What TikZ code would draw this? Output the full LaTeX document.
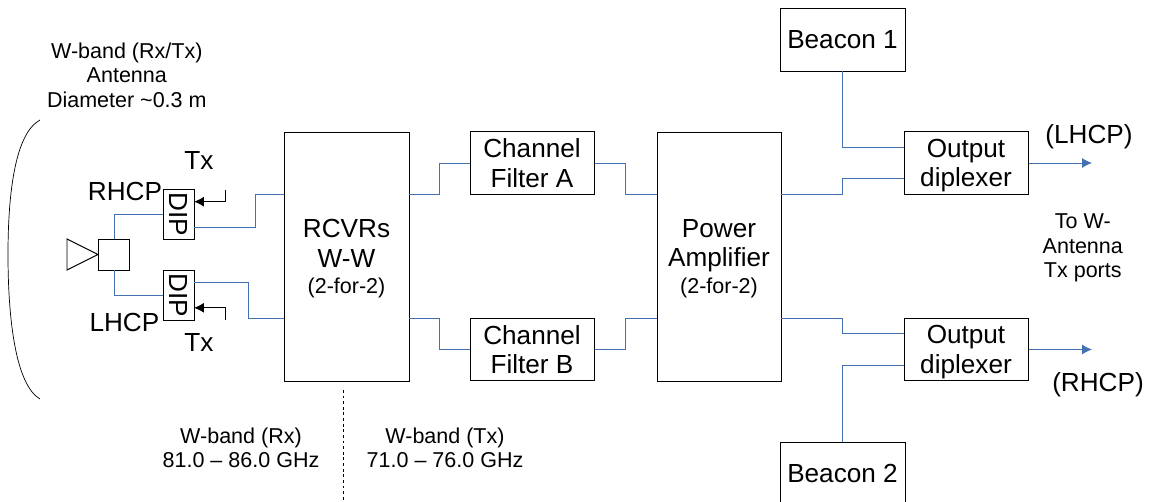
\documentclass[tikz,border=0pt]{standalone}
\usepackage{fontspec}
\setmainfont{Liberation Sans}
\usetikzlibrary{arrows.meta}
\definecolor{wireblue}{RGB}{68,114,176}
\newcommand{\bigsize}{\fontsize{18.6}{21}\selectfont}
\newcommand{\smallsize}{\fontsize{15.3}{17.4}\selectfont}
\tikzset{
	blockbox/.style={shape=rectangle, draw, line width=0.7pt, fill=white, anchor=center, align=center, inner sep=0pt, font=\bigsize},
	wire/.style={draw=wireblue, line width=0.7pt},
	label/.style={anchor=center, align=center, inner sep=0pt, font=\smallsize},
	biglabel/.style={anchor=center, align=center, inner sep=0pt, font=\bigsize}
}
\begin{document}
\begin{tikzpicture}
	\useasboundingbox (0, 0) rectangle (28.725, 12.525);
	% Blocks:
	\node[blockbox, text depth=0pt, minimum width=3.125cm, minimum height=6.225cm] (rcvr) at (8.6625, 6.1125){RCVRs\\W-W\\[-2pt]{\smallsize (2-for-2)}};
	\node[blockbox, minimum width=3.1cm, minimum height=1.5625cm] (filtera) at (13.3, 8.45){Channel\\Filter A};
	\node[blockbox, minimum width=3.1cm, minimum height=1.5625cm] (filterb) at (13.3, 3.7875){Channel\\Filter B};
	\node[blockbox, text depth=0pt, minimum width=3.1cm, minimum height=6.225cm] (amp) at (17.975, 6.1125){Power\\Amplifier\\[-2pt]{\smallsize (2-for-2)}};
	\node[blockbox, text depth=0pt, minimum width=3.1cm, minimum height=1.5625cm] (diplexa) at (24.15, 8.45){Output\\diplexer};
	\node[blockbox, text depth=0pt, minimum width=3.1cm, minimum height=1.5625cm] (diplexb) at (24.15, 3.7875){Output\\diplexer};
	\node[blockbox, minimum width=3.125cm, minimum height=1.575cm] (beacona) at (21.0625, 11.5375){Beacon 1};
	\node[blockbox, minimum width=3.125cm, minimum height=1.575cm] (beaconb) at (21.0625, 0.6875){Beacon 2};
	\node[blockbox, minimum width=0.775cm, minimum height=1.25cm] (dipa) at (4.4625, 7.175){\rotatebox{-90}{DIP}};
	\node[blockbox, minimum width=0.775cm, minimum height=1.25cm] (dipb) at (4.4625, 5.15){\rotatebox{-90}{DIP}};
	\node[blockbox, minimum width=0.775cm, minimum height=0.775cm] (omt) at (2.85, 6.1625){};
	\draw[line width=0.7pt] (omt.west) -- (1.675, 6.55) -- (1.675, 5.775) -- cycle;
	% Reflector:
	\coordinate (dishtop) at (1, 9.525);
	\coordinate (dishmid) at (0.2, 6.1625);
	\coordinate (dishbot) at (1, 2.55);
	\draw[line width=0.5pt] (dishtop) .. controls (0.4, 9.2) and (0.2, 7.8) .. (dishmid) .. controls (0.2, 4.5) and (0.4, 2.9) .. (dishbot);
	% Wires:
	\coordinate (rcvrai) at (7.1, 7.6625);
	\coordinate (rcvrbi) at (7.1, 4.5625);
	\coordinate (rcvrao) at (10.225, 7.6625);
	\coordinate (rcvrbo) at (10.225, 4.5625);
	\coordinate (ampai) at (16.425, 7.6625);
	\coordinate (ampbi) at (16.425, 4.5625);
	\coordinate (ampao) at (19.525, 7.6625);
	\coordinate (ampbo) at (19.525, 4.5625);
	\coordinate (dipaout) at (4.85, 6.85);
	\coordinate (dipbout) at (4.85, 5.475);
	\coordinate (diplexain) at (22.6, 8.075);
	\coordinate (diplexac) at (22.6, 8.85);
	\coordinate (diplexbin) at (22.6, 4.2);
	\coordinate (diplexbc) at (22.6, 3.4);
	\draw[wire] (omt.north) |- (dipa.west);
	\draw[wire] (omt.south) |- (dipb.west);
	\draw[wire] (dipaout) -- (6.375, 6.85) |- (rcvrai);
	\draw[wire] (dipbout) -- (6.2175, 5.475) |- (rcvrbi);
	\draw[wire] (rcvrao) -- (10.975, 7.6625) |- (filtera.west);
	\draw[wire] (rcvrbo) -- (10.975, 4.5625) |- (filterb.west);
	\draw[wire] (filtera.east) -- (15.625, 8.45) |- (ampai);
	\draw[wire] (filterb.east) -- (15.625, 3.7875) |- (ampbi);
	\draw[wire] (ampao) -- (21.0625, 7.6625) |- (diplexain);
	\draw[wire] (ampbo) -- (21.0625, 4.5625) |- (diplexbin);
	\draw[wire] (beacona.south) |- (diplexac);
	\draw[wire] (beaconb.north) |- (diplexbc);
	\coordinate (outa) at (27.3, 8.45);
	\coordinate (outb) at (27.3, 3.7875);
	\draw[wire, -{Latex[length=7pt, width=7pt]}, wireblue] (diplexa.east) -- (outa);
	\draw[wire, -{Latex[length=7pt, width=7pt]}, wireblue] (diplexb.east) -- (outb);
	% Tx feeds:
	\coordinate (txafree) at (5.6425, 7.775);
	\coordinate (txaend) at (4.85, 7.4825);
	\coordinate (txbfree) at (5.6425, 4.525);
	\coordinate (txbend) at (4.85, 4.83);
	\draw[line width=0.7pt, -{Latex[length=7pt, width=7pt]}] (txafree) |- (txaend);
	\draw[line width=0.7pt, -{Latex[length=7pt, width=7pt]}] (txbfree) |- (txbend);
	% Rx/Tx divide:
	\coordinate (splittop) at (8.575, 2.775);
	\coordinate (splitbot) at (8.575, 0);
	\draw[line width=0.5pt, dash pattern=on 2pt off 2pt] (splittop) -- (splitbot);
	% Labels:
	\node[label] (antenna) at (3.17, 10.65){W-band (Rx/Tx)\\Antenna\\Diameter \textasciitilde 0.3 m};
	\node[biglabel] (lblrhcp) at (3.125, 7.73){RHCP};
	\node[biglabel] (lbllhcp) at (3.11, 4.46){LHCP};
	\node[biglabel] (txa) at (4.975, 8.5){Tx};
	\node[biglabel] (txb) at (4.975, 3.96){Tx};
	\node[label] (rxband) at (6.025, 1.33){W-band (Rx)\\81.0 -- 86.0 GHz};
	\node[label] (txband) at (11.125, 1.33){W-band (Tx)\\71.0 -- 76.0 GHz};
	\node[biglabel] (lhcp) at (27.225, 9.1){(LHCP)};
	\node[biglabel] (rhcpout) at (27.45, 2.9){(RHCP)};
	\node[label] (ports) at (27.07, 6.325){To W-\\Antenna\\Tx ports};
\end{tikzpicture}
\end{document}
